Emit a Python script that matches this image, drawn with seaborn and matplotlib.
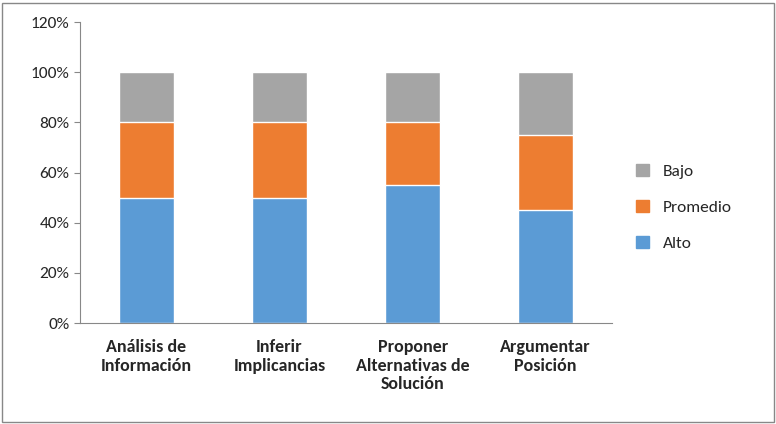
import seaborn as sns
import matplotlib.pyplot as plt
import pandas as pd
from matplotlib.patches import Patch

categorias = ['Análisis de\nInformación', 'Inferir\nImplicancias',
              'Proponer\nAlternativas de\nSolución', 'Argumentar\nPosición']
alto = [50, 50, 55, 45]
promedio = [30, 30, 25, 30]
bajo = [20, 20, 20, 25]

colores = {'Alto': '#5B9BD5', 'Promedio': '#ED7D31', 'Bajo': '#A5A5A5'}

df = pd.DataFrame({'Categoria': categorias, 'Alto': alto,
                   'Promedio': promedio, 'Bajo': bajo})
df['c_alto'] = df['Alto']
df['c_prom'] = df['Alto'] + df['Promedio']
df['c_bajo'] = df['c_prom'] + df['Bajo']

sns.set_style('white')
plt.rcParams['font.family'] = ['Calibri', 'Carlito', 'DejaVu Sans']
fig = plt.figure(figsize=(7.76, 4.24), dpi=100)
ax = fig.add_axes([0.103, 0.238, 0.686, 0.71])

for col, nombre in [('c_bajo', 'Bajo'), ('c_prom', 'Promedio'), ('c_alto', 'Alto')]:
    sns.barplot(data=df, x='Categoria', y=col, color=colores[nombre],
                width=0.41, saturation=1, ax=ax)

ax.set_ylim(0, 120)
ax.set_yticks(range(0, 121, 20))
ax.set_yticklabels([f'{v}%' for v in range(0, 121, 20)], fontsize=12.5)
ax.tick_params(axis='x', labelsize=13, pad=8)
for lbl in ax.get_xticklabels():
    lbl.set_fontweight('bold')
ax.set_xlabel('')
ax.set_ylabel('')
for s in ['top', 'right']:
    ax.spines[s].set_visible(False)
for s in ['left', 'bottom']:
    ax.spines[s].set_color('#888888')
ax.tick_params(axis='y', length=4, color='#888888', left=True)

handles = [Patch(color=colores[n], label=n) for n in ['Bajo', 'Promedio', 'Alto']]
fig.legend(handles=handles, loc='center left', bbox_to_anchor=(0.8, 0.51),
           frameon=False, fontsize=12.5, handlelength=0.7, handleheight=0.7,
           labelspacing=1.2)

fig.patches.append(plt.Rectangle((0.002, 0.004), 0.995, 0.99, transform=fig.transFigure,
                                 fill=False, edgecolor='#888888', linewidth=1))
fig.savefig('out.png', dpi=100)
